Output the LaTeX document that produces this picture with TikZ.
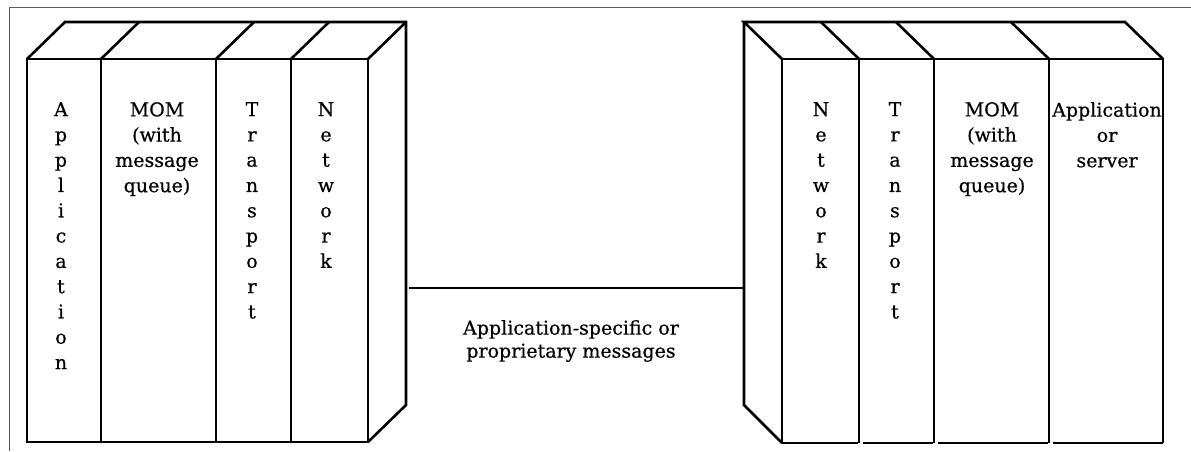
\documentclass[tikz,border=0pt]{standalone}
\usepackage{fontspec}
\setmainfont[FakeBold=0.5]{DejaVu Serif}
\begin{document}
\begin{tikzpicture}[x=1pt,y=-1pt,
  edge/.style={line width=2.6pt,black},
  framel/.style={line width=1pt,black!65},
  lbl/.style={font=\fontsize{19}{25.3}\selectfont,align=center,inner sep=0pt,anchor=north},
  msg/.style={font=\fontsize{19}{23}\selectfont,align=center,inner sep=0pt}]
\useasboundingbox (0,0) rectangle (1191,451);
% outer frame (top and left only)
\draw[framel] (1191,7.5) -- (9,7.5) -- (9,451);
% ---------- left stack ----------
\draw[edge] (27,59) rectangle (368,442);
\foreach \x in {101,216,291} \draw[edge] (\x,59) -- (\x,442);
\draw[edge] (27,59) -- (65,22) -- (406,22) -- (406,405) -- (368,442);
\draw[edge] (368,59) -- (406,22);
\foreach \x in {101,216,291} \draw[edge] (\x,59) -- ++(38,-37);
\node[lbl] (lapp) at (61,102) {A\\p\\p\\l\\i\\c\\a\\t\\i\\o\\n};
\node[lbl] (lmom) at (157,102) {MOM\\(with\\message\\queue)};
\node[lbl] (ltra) at (252,102) {T\\r\\a\\n\\s\\p\\o\\r\\t};
\node[lbl] (lnet) at (326,102) {N\\e\\t\\w\\o\\r\\k};
% ---------- right stack ----------
\draw[edge] (782,442) -- (782,59) -- (1163,59) -- (1163,443);
\foreach \x in {859,934,1049} \draw[edge] (\x,59) -- (\x,443);
\draw[edge] (782,59) -- (744,22) -- (1125,22) -- (1163,59);
\draw[edge] (744,22) -- (744,405) -- (782,443);
\foreach \x in {859,934,1049} \draw[edge] (\x,59) -- ++(-38,-37);
\draw[edge] (782,443) -- (858,443);
\draw[edge] (863,443) -- (933,443);
\draw[edge] (938,443) -- (1048,443);
\draw[edge] (1053,443) -- (1163,443);
\node[lbl] (rnet) at (821,102) {N\\e\\t\\w\\o\\r\\k};
\node[lbl] (rtra) at (895,102) {T\\r\\a\\n\\s\\p\\o\\r\\t};
\node[lbl] (rmom) at (992,102) {MOM\\(with\\message\\queue)};
\node[lbl] (rapp) at (1107,102) {Application\\or\\server};
% ---------- connector ----------
\coordinate (lside) at (409,288);
\coordinate (rside) at (744,288);
\draw[edge] (lside) -- (rside);
\node[msg] (msglbl) at (571,341) {Application-specific or\\proprietary messages};
\end{tikzpicture}
\end{document}
